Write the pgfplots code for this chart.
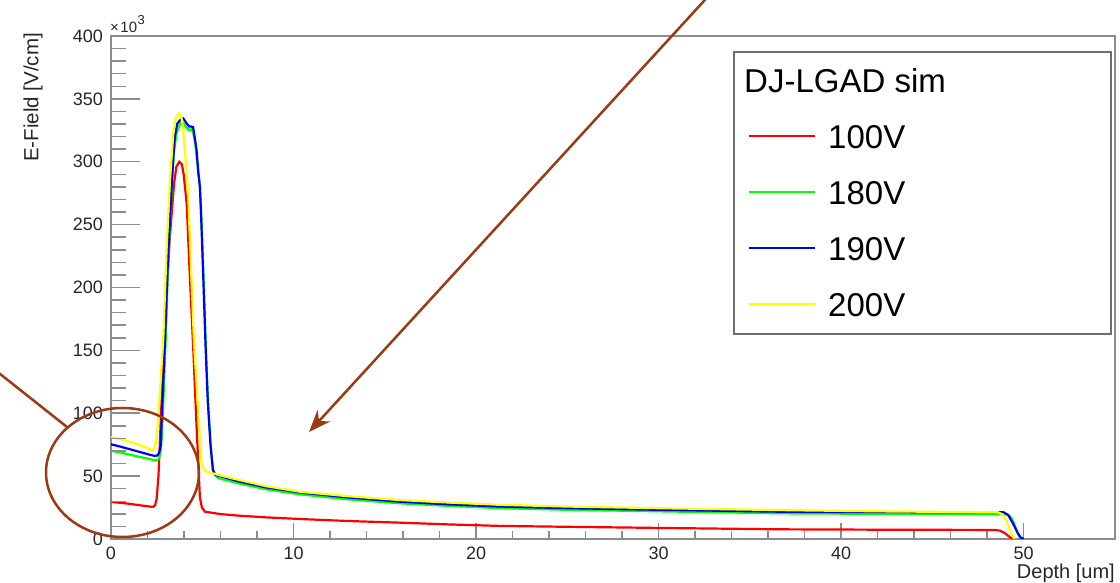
\documentclass[border=0pt]{standalone}
\usepackage{fontspec}
\setmainfont{Liberation Sans}
\usepackage{pgfplots}
\pgfplotsset{compat=1.18}
\usetikzlibrary{arrows.meta}
\definecolor{axgray}{RGB}{140,140,140}
\definecolor{leggray}{RGB}{110,110,110}
\definecolor{annbrown}{RGB}{156,58,22}
\definecolor{rootred}{RGB}{255,0,0}
\definecolor{rootgreen}{RGB}{0,255,0}
\definecolor{rootblue}{RGB}{0,0,255}
\definecolor{rootyellow}{RGB}{255,255,0}
\begin{document}
\begin{tikzpicture}
\path[use as bounding box] (0pt,0pt) rectangle (1120pt,583pt);
% legend frame
\draw[leggray, line width=1.4pt, fill=white] (734pt,531pt) rectangle (1111pt,249pt);
\begin{axis}[
  at={(111pt,44pt)}, anchor=south west, scale only axis,
  width=1004pt, height=503pt,
  xmin=0, xmax=55, ymin=0, ymax=400,
  xtick={0,10,...,50}, minor x tick num=4,
  ytick={0,50,...,400},
  xtick pos=bottom, ytick pos=left, tick align=inside,
  major tick length=16pt, minor tick length=8pt,
  xtick style={axgray, line width=1.5pt},
  ytick style={draw=none},
  axis line style={axgray, line width=1.6pt},
  /pgf/number format/assume math mode=true,
  ticklabel style={font=\fontsize{18}{20}\selectfont, text=black!85},
  xticklabel style={inner sep=0pt, yshift=-8pt},
  yticklabel style={inner sep=0pt, xshift=-8pt},
  xlabel={Depth [um]},
  xlabel style={at={(rel axis cs:1,-0.0785)}, anchor=base east, inner sep=0pt, font=\fontsize{20}{22}\selectfont, text=black!85},
  ylabel={E-Field [V/cm]},
  ylabel style={at={(rel axis cs:-0.0777,1.006)}, anchor=east, inner sep=0pt, font=\fontsize{20.5}{22}\selectfont, text=black!85},
  legend style={at={(rel axis cs:0.6345,0.9364)}, anchor=north west, draw=none, fill=none,
    inner sep=0pt, row sep=32pt, column sep=12pt, font=\fontsize{33}{36}\selectfont,
    nodes={inner sep=0pt, text height=24pt, text depth=0pt}},
  legend cell align=left,
  legend image code/.code={\draw[#1, line width=2pt] (0pt,0pt) -- (66pt,0pt);},
]
\addlegendimage{empty legend}
\addlegendentry{\hspace*{-84pt}DJ-LGAD sim}
\addplot[rootred, line width=2.2pt] coordinates {
(0,29.5) (0.5,28.8) (1.0,28.0) (1.5,27.0) (2.0,26.0) (2.3,25.5) (2.42,27) (2.5,32)
(2.6,50) (2.7,85) (2.8,120) (2.9,150) (3.05,195) (3.2,235) (3.32,258) (3.45,282)
(3.58,296) (3.74,300) (3.88,298) (3.98,290) (4.08,276) (4.15,266) (4.3,215) (4.51,150)
(4.7,85) (4.8,55) (4.87,33) (4.98,25) (5.15,21.7) (6.0,19.8) (7.06,18.5) (8.5,17.2)
(10.35,15.9) (13,14.3) (15.8,13.0) (18.5,11.6) (21.3,10.4) (25,9.7) (30,8.8) (36.6,7.7)
(42,7.4) (48.4,7.2) (48.7,6.6) (48.95,4.8) (49.15,2.5) (49.3,0.8) (49.4,0)
};
\addlegendentry{100V}
\addplot[rootgreen, line width=2.2pt] coordinates {
(0,70.2) (0.5,68.8) (1,67.2) (1.5,65.5) (2,64) (2.45,62.3) (2.6,63.5) (2.7,68)
(2.78,80) (2.88,115) (3.0,160) (3.12,215) (3.25,255) (3.35,285) (3.45,308) (3.58,322)
(3.72,328) (3.87,331.5) (4.0,330) (4.15,327) (4.29,325) (4.42,326) (4.52,322) (4.62,314)
(4.72,300) (4.87,280) (4.95,256) (5.07,208) (5.2,150) (5.32,108) (5.47,72) (5.6,55)
(5.75,50) (5.88,48.3) (7.06,44) (8.5,39.5) (10.35,35.5) (13,31.5) (15.8,28.4) (18.5,26.3)
(21.3,24.5) (25,23.2) (30,22) (36.6,20.4) (42,20) (49.1,19.6) (49.3,17.5) (49.45,13)
(49.6,7) (49.75,2) (49.85,0)
};
\addlegendentry{180V}
\addplot[rootblue, line width=2.2pt] coordinates {
(0,75.3) (0.5,73.5) (1,71.5) (1.5,69.5) (2,67.5) (2.4,66) (2.55,66.5) (2.65,69)
(2.72,74) (2.82,110) (2.95,155) (3.1,215) (3.2,245) (3.32,280) (3.42,305) (3.5,320)
(3.62,330) (3.78,333) (3.96,334.5) (4.12,331) (4.28,328) (4.4,328) (4.5,327.5) (4.6,318)
(4.69,309) (4.78,292) (4.87,280) (4.93,260) (5.05,210) (5.19,150) (5.3,110) (5.45,75)
(5.58,55) (5.7,51) (7.06,45.6) (8.5,41) (10.35,37) (13,33) (15.8,29.7) (18.5,27.5)
(21.3,25.8) (25,24.5) (30,23.2) (36.6,21.7) (42,21.4) (48.9,21.2) (49.15,19) (49.35,14)
(49.5,9.8) (49.7,4) (49.85,1) (50,0)
};
\addlegendentry{190V}
\addplot[rootyellow, line width=2.2pt] coordinates {
(0,81) (0.5,79.5) (1.0,77.5) (1.5,75) (2.0,72.5) (2.25,70.5) (2.38,72) (2.5,80)
(2.65,110) (2.86,158) (3.05,232) (3.23,285) (3.41,322) (3.55,335) (3.72,338.5) (3.85,336)
(3.95,326) (4.05,308) (4.15,290) (4.24,270) (4.4,210) (4.55,155) (4.7,120) (4.85,85)
(4.97,59) (5.1,55) (5.24,53.5) (6.0,50.5) (7.0,47) (8.5,42) (10.35,37.6) (13,34)
(15.8,31) (18.5,29) (21.3,27.2) (25,25.8) (30,24.5) (36.6,23) (42,22) (48.6,21.2)
(48.85,19.5) (49.05,15) (49.25,7) (49.4,2) (49.5,0)
};
\addlegendentry{200V}
\end{axis}
\begin{axis}[
  at={(111pt,44pt)}, anchor=south west, scale only axis,
  width=1004pt, height=503pt,
  xmin=0, xmax=55, ymin=0, ymax=400,
  xtick=\empty, ytick={0,50,...,400}, minor y tick num=4,
  ytick pos=left, tick align=inside,
  major tick length=29pt, minor tick length=15pt,
  ytick style={axgray, line width=1.5pt},
  yticklabels={},
  axis line style={draw=none},
]
\end{axis}
\node[anchor=base west, inner sep=0pt, font=\fontsize{15}{16}\selectfont, text=black!85]
  at (110pt,550pt) {×\kern1.5pt10\kern0.5pt\raisebox{8.5pt}{\fontsize{13}{14}\selectfont 3}};
\draw[annbrown, line width=2.5pt, -{Stealth[length=22pt,width=17pt]}] (714pt,593pt) -- (309pt,151pt);
\draw[annbrown, line width=2.5pt] (-10pt,217pt) -- (67pt,156pt);
\draw[annbrown, line width=2.5pt] (122.5pt,110.5pt) ellipse [x radius=76.5pt, y radius=64.5pt];
\end{tikzpicture}
\end{document}
